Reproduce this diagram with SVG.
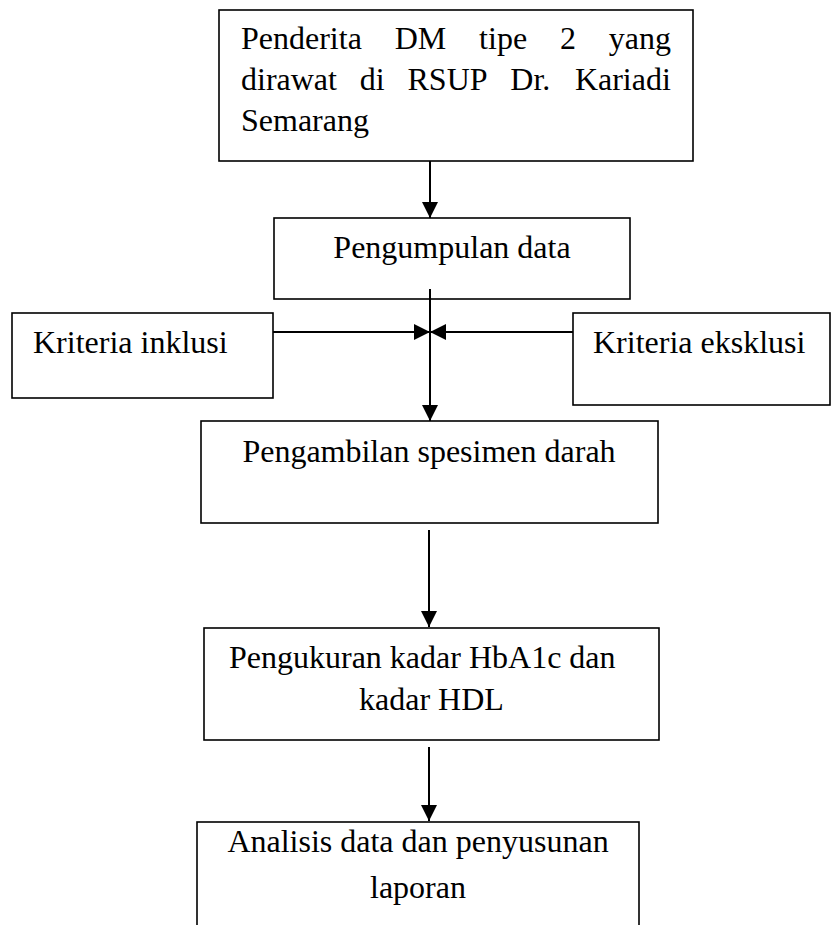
<svg xmlns="http://www.w3.org/2000/svg" width="832" height="925" viewBox="0 0 832 925">
<style>
.box{fill:#fff;stroke:#000;stroke-width:1.6}
.t{font-family:"Liberation Serif","Times New Roman",serif;font-size:32px;fill:#000}
.c{stroke:#000;stroke-width:2;fill:none}
</style>
<defs>
<marker id="ah" markerUnits="userSpaceOnUse" markerWidth="16" markerHeight="16" refX="16" refY="8" orient="auto">
<path d="M0,0 L16,8 L0,16 Z" fill="#000"/>
</marker>
</defs>
<rect width="832" height="925" fill="#fff"/>
<g id="n1">
<rect class="box" x="219" y="10" width="474" height="151"/>
<text class="t" y="49"><tspan x="241">Penderita</tspan><tspan x="394.7">DM</tspan><tspan x="479.1">tipe</tspan><tspan x="559.9">2</tspan><tspan x="608.7">yang</tspan></text>
<text class="t" y="90"><tspan x="241">dirawat</tspan><tspan x="359.8">di</tspan><tspan x="407.5">RSUP</tspan><tspan x="510.3">Dr.</tspan><tspan x="574.9">Kariadi</tspan></text>
<text class="t" x="241" y="131">Semarang</text>
</g>
<g id="n2">
<rect class="box" x="274" y="218" width="356" height="81"/>
<text class="t" x="452" y="258" text-anchor="middle">Pengumpulan data</text>
</g>
<g id="n3">
<rect class="box" x="12" y="313" width="261" height="85"/>
<text class="t" x="33" y="353">Kriteria inklusi</text>
</g>
<g id="n4">
<rect class="box" x="573" y="313" width="257" height="92"/>
<text class="t" x="593" y="353">Kriteria eksklusi</text>
</g>
<g id="n5">
<rect class="box" x="201" y="421" width="457" height="102"/>
<text class="t" x="429" y="462" text-anchor="middle">Pengambilan spesimen darah</text>
</g>
<g id="n6">
<rect class="box" x="204" y="628" width="455" height="112"/>
<text class="t" x="229" y="668">Pengukuran kadar HbA1c dan</text>
<text class="t" x="359" y="710">kadar HDL</text>
</g>
<g id="n7">
<rect class="box" x="197" y="822" width="442" height="120"/>
<text class="t" x="418" y="852" text-anchor="middle">Analisis data dan penyusunan</text>
<text class="t" x="418" y="898" text-anchor="middle">laporan</text>
</g>
<g id="connectors">
<line class="c" x1="430" y1="161" x2="430" y2="218" marker-end="url(#ah)"/>
<line class="c" x1="430" y1="289" x2="430" y2="421" marker-end="url(#ah)"/>
<line class="c" x1="273" y1="332" x2="430" y2="332" marker-end="url(#ah)"/>
<line class="c" x1="573" y1="332" x2="430" y2="332" marker-end="url(#ah)"/>
<line class="c" x1="429" y1="530" x2="429" y2="627" marker-end="url(#ah)"/>
<line class="c" x1="429" y1="747" x2="429" y2="821" marker-end="url(#ah)"/>
</g>
</svg>
